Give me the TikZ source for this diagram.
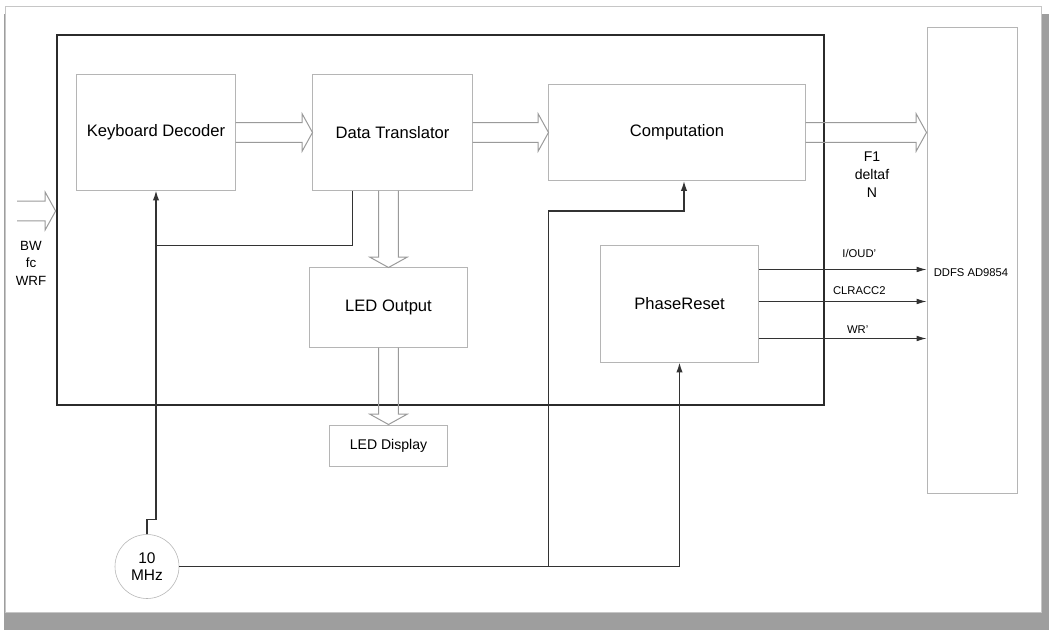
\documentclass[tikz,border=0pt]{standalone}
\usepackage{fontspec}
\setmainfont{Liberation Sans}
\usetikzlibrary{arrows.meta,calc,positioning}
\definecolor{Frame}{HTML}{2B2B2B}
\definecolor{BoxLine}{HTML}{B5B5B5}
\definecolor{Wire}{HTML}{333333}
\definecolor{Hollow}{HTML}{9A9A9A}
\definecolor{Shade}{HTML}{9E9E9E}
\tikzset{
  blk/.style={draw=BoxLine,line width=.7pt,inner sep=0pt,font=\fontsize{11.8}{14}\selectfont},
  wire/.style={draw=Wire,line width=1pt},
  tip/.style={-{Latex[length=7pt,width=4.5pt]}},
  sig/.style={draw=Wire,line width=.6pt,-{Latex[length=7pt,width=4pt]}},
  small/.style={font=\fontsize{8}{10}\selectfont},
  fatarrow/.style={draw=Hollow,line width=.7pt,to path={
    ($(\tikztostart)!0.245cm!90:(\tikztotarget)$)
    -- ($(\tikztotarget)!0.26cm!(\tikztostart)!0.245cm!-90:(\tikztostart)$)
    -- ($(\tikztotarget)!0.26cm!(\tikztostart)!0.47cm!-90:(\tikztostart)$)
    -- (\tikztotarget)
    -- ($(\tikztotarget)!0.26cm!(\tikztostart)!0.47cm!90:(\tikztostart)$)
    -- ($(\tikztotarget)!0.26cm!(\tikztostart)!0.245cm!90:(\tikztostart)$)
    -- ($(\tikztostart)!0.245cm!-90:(\tikztotarget)$)}}
}
\begin{document}
\begin{tikzpicture}[x=0.025cm,y=-0.025cm]
  \useasboundingbox (0,0) rectangle (1049,630);
  % sheet with shadow
  \fill[Shade] (4,14) rectangle (1049,630);
  \filldraw[fill=white,draw=gray!45,line width=.4pt] (5,6) rectangle (1041,612);
  % blocks
  \node[draw=Frame,line width=1.8pt,minimum width=19.175cm,minimum height=9.25cm] (core) at (440.5,220) {};
  \node[blk,minimum width=3.95cm,minimum height=2.875cm] (kbd) at (156,132.5) {Keyboard Decoder};
  \node[blk,minimum width=3.975cm,minimum height=2.875cm] (dt) at (392.5,132.5) {Data Translator};
  \node[blk,minimum width=6.4cm,minimum height=2.4cm] (comp) at (677,132.5) {Computation};
  \node[blk,minimum width=3.925cm,minimum height=1.975cm] (led) at (388.5,307.5) {LED Output};
  \node[blk,minimum width=3.925cm,minimum height=2.9cm] (phase) at (679.5,304) {PhaseReset};
  \node[blk,minimum width=2.925cm,minimum height=1.025cm,font=\fontsize{10}{12}\selectfont] (disp) at (388.5,445.5) {LED Display};
  \node[blk,minimum width=2.25cm,minimum height=11.625cm] (ddfs) at (972,260.5) {};
  \node[small] (ddfslbl) at (971,273) {DDFS AD9854};
  \node[draw=BoxLine,circle,minimum size=1.6cm,inner sep=0pt,align=center,font=\fontsize{11}{12.5}\selectfont] (clk) at (147,566.5) {10\\MHz};
  % bus labels
  \node[align=center,font=\fontsize{9.5}{12.4}\selectfont] (inlbl) at (31,263) {BW\\fc\\WRF};
  \node[align=center,font=\fontsize{10}{12.8}\selectfont] (outlbl) at (872,175) {F1\\deltaf\\N};
  % wide buses
  \coordinate (inp) at (17,211);
  \coordinate (inq) at (inp -| core.west);
  \draw[fatarrow] (inp) to (inq);
  \draw[fatarrow] (kbd.east) to (dt.west);
  \draw[fatarrow] (dt.east) to (comp.west);
  \coordinate (ddin) at (comp.east -| ddfs.west);
  \draw[fatarrow] (comp.east) to (ddin);
  \coordinate (dtout) at (dt.south -| led.north);
  \draw[fatarrow] (dtout) to (led.north);
  \draw[fatarrow] (led.south) to (disp.north);
  % clock wiring
  \draw[wire,tip] (clk.north) -- ++(0,-15) -| (kbd.south);
  \draw[wire] ($(dt.south)+(-40,0)$) |- ($(kbd.south)+(0,55)$);
  \draw[wire,tip] (clk.east) -| (phase.south);
  \coordinate (split) at (comp.west |- clk.east);
  \coordinate (cin) at ($(comp.south)+(7,0)$);
  \draw[wire,tip] (split) |- ($(cin)+(0,30)$) -- (cin);
  % control lines
  \coordinate (o1) at ($(phase.north east)+(0,24)$);
  \coordinate (o2) at ($(phase.north east)+(0,56)$);
  \coordinate (o3) at ($(phase.north east)+(0,93)$);
  \draw[sig] (o1) -- (o1 -| ddfs.west) node[small,pos=.6,above=4.5pt] (l1) {I/OUD'};
  \draw[sig] (o2) -- (o2 -| ddfs.west) node[small,pos=.6,above=1pt] (l2) {CLRACC2};
  \draw[sig] (o3) -- (o3 -| ddfs.west) node[small,pos=.59,above=0pt] (l3) {WR'};
\end{tikzpicture}
\end{document}
